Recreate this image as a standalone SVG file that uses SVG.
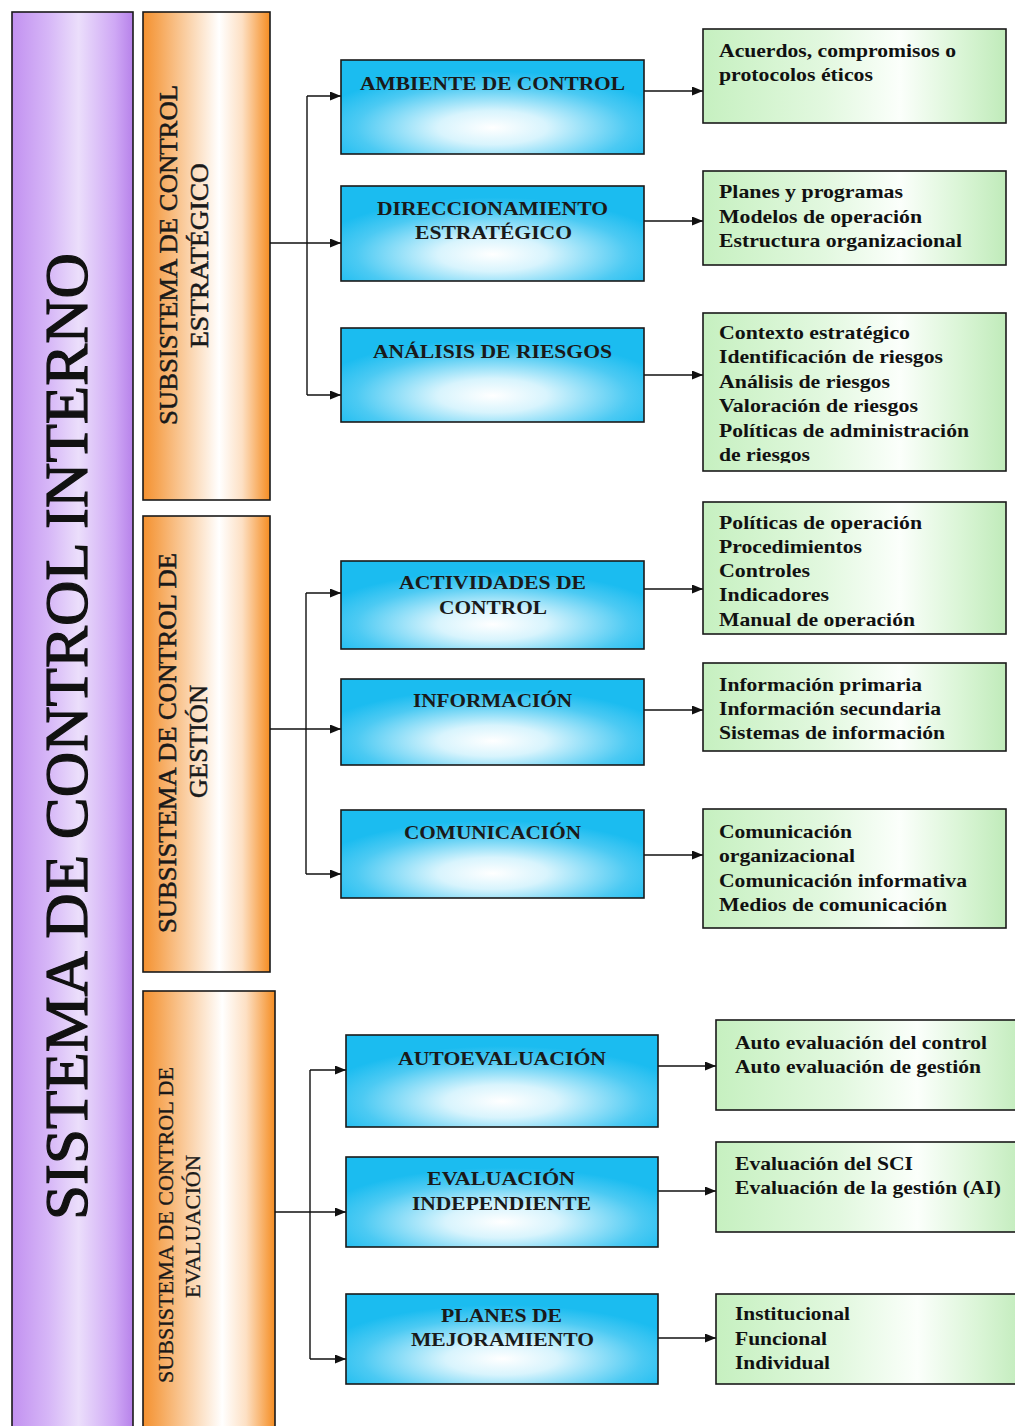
<svg xmlns="http://www.w3.org/2000/svg" width="1015" height="1426" viewBox="0 0 1015 1426">
<defs>
<linearGradient id="gPurple" x1="0" y1="0" x2="1" y2="0">
<stop offset="0" stop-color="#c291f0"/><stop offset="0.3" stop-color="#d6b6f7"/><stop offset="0.55" stop-color="#ebdefb"/><stop offset="0.85" stop-color="#cfa8f5"/><stop offset="1" stop-color="#b782ea"/>
</linearGradient>
<linearGradient id="gOrange" x1="0" y1="0" x2="1" y2="0">
<stop offset="0" stop-color="#f49130"/><stop offset="0.12" stop-color="#f6a656"/><stop offset="0.6" stop-color="#ffffff"/><stop offset="0.78" stop-color="#fde0c4"/><stop offset="1" stop-color="#f58d22"/>
</linearGradient>
<radialGradient id="gBlue" cx="0.5" cy="0.72" r="0.6">
<stop offset="0" stop-color="#ffffff"/><stop offset="0.3" stop-color="#d8f4fd"/><stop offset="0.75" stop-color="#4ccaf3"/><stop offset="1" stop-color="#1bbcf0"/>
</radialGradient>
<linearGradient id="gGreen" x1="0" y1="0" x2="1" y2="0">
<stop offset="0" stop-color="#c6f0c0"/><stop offset="0.4" stop-color="#e2f8df"/><stop offset="0.65" stop-color="#fbfffb"/><stop offset="0.85" stop-color="#daf5d6"/><stop offset="1" stop-color="#c0ebba"/>
</linearGradient>
<marker id="arr" markerUnits="userSpaceOnUse" markerWidth="12" markerHeight="10" refX="11" refY="4.5" orient="auto">
<path d="M0,0 L11,4.5 L0,9 z" fill="#111"/>
</marker>
<clipPath id="clipR"><rect x="703" y="313" width="303" height="150"/></clipPath>
<clipPath id="clipM"><rect x="703" y="502" width="303" height="125"/></clipPath>
</defs>
<style>
.box{stroke:#1a1a1a;stroke-width:1.6}
.purple{fill:url(#gPurple)}
.orange{fill:url(#gOrange)}
.blue{fill:url(#gBlue)}
.green{fill:url(#gGreen)}
.title{font-family:"Liberation Serif","Times New Roman",serif;font-size:62px;fill:#111;stroke:#111;stroke-width:1.2}
.sub{font-family:"Liberation Serif","Times New Roman",serif;font-size:25px;fill:#1a1a1a;stroke:#1a1a1a;stroke-width:0.5}
.sub3{font-family:"Liberation Serif","Times New Roman",serif;font-size:22px;fill:#1a1a1a;stroke:#1a1a1a;stroke-width:0.3}
.bt{font-family:"Liberation Serif","Times New Roman",serif;font-size:19px;font-weight:bold;fill:#1a1a1a;text-anchor:middle}
.gt{font-family:"Liberation Serif","Times New Roman",serif;font-size:19px;font-weight:bold;fill:#111}
.con{fill:none;stroke:#111;stroke-width:1.4}
</style>
<rect width="1015" height="1426" fill="#ffffff"/>

<g id="sistema">
<rect class="box purple" x="12" y="12" width="121" height="1430"/>
<text class="title" transform="translate(87,736.5) rotate(-90)" text-anchor="middle" textLength="967" lengthAdjust="spacingAndGlyphs">SISTEMA DE CONTROL INTERNO</text>
</g>

<g id="sub-estrategico">
<rect class="box orange" x="143" y="12" width="127" height="488"/>
<text class="sub" transform="translate(177,255) rotate(-90)" text-anchor="middle" textLength="340" lengthAdjust="spacingAndGlyphs">SUBSISTEMA DE CONTROL</text>
<text class="sub" transform="translate(208,255.5) rotate(-90)" text-anchor="middle" textLength="185" lengthAdjust="spacingAndGlyphs">ESTRATÉGICO</text>
</g>

<g id="sub-gestion">
<rect class="box orange" x="143" y="516" width="127" height="456"/>
<text class="sub" transform="translate(176,743) rotate(-90)" text-anchor="middle" textLength="380" lengthAdjust="spacingAndGlyphs">SUBSISTEMA DE CONTROL DE</text>
<text class="sub" transform="translate(207,741.5) rotate(-90)" text-anchor="middle" textLength="113" lengthAdjust="spacingAndGlyphs">GESTIÓN</text>
</g>

<g id="sub-evaluacion">
<rect class="box orange" x="143" y="991" width="132" height="450"/>
<text class="sub3" transform="translate(173,1225) rotate(-90)" text-anchor="middle" textLength="316" lengthAdjust="spacingAndGlyphs">SUBSISTEMA DE CONTROL DE</text>
<text class="sub3" transform="translate(200,1226.5) rotate(-90)" text-anchor="middle" textLength="143" lengthAdjust="spacingAndGlyphs">EVALUACIÓN</text>
</g>

<g id="connectors">
<path class="con" d="M270 243 H307 M307 96 V395"/>
<path class="con" d="M307 96 H341" marker-end="url(#arr)"/>
<path class="con" d="M307 243 H341" marker-end="url(#arr)"/>
<path class="con" d="M307 395 H341" marker-end="url(#arr)"/>
<path class="con" d="M644 91 H703" marker-end="url(#arr)"/>
<path class="con" d="M644 221 H703" marker-end="url(#arr)"/>
<path class="con" d="M644 375 H703" marker-end="url(#arr)"/>
<path class="con" d="M270 729 H306 M306 593 V874"/>
<path class="con" d="M306 593 H341" marker-end="url(#arr)"/>
<path class="con" d="M306 729 H341" marker-end="url(#arr)"/>
<path class="con" d="M306 874 H341" marker-end="url(#arr)"/>
<path class="con" d="M644 589 H703" marker-end="url(#arr)"/>
<path class="con" d="M644 710 H703" marker-end="url(#arr)"/>
<path class="con" d="M644 855 H703" marker-end="url(#arr)"/>
<path class="con" d="M275 1212 H310 M310 1070 V1359"/>
<path class="con" d="M310 1070 H346" marker-end="url(#arr)"/>
<path class="con" d="M310 1212 H346" marker-end="url(#arr)"/>
<path class="con" d="M310 1359 H346" marker-end="url(#arr)"/>
<path class="con" d="M658 1066 H716" marker-end="url(#arr)"/>
<path class="con" d="M658 1191 H716" marker-end="url(#arr)"/>
<path class="con" d="M658 1338 H716" marker-end="url(#arr)"/>
</g>

<g id="ambiente">
<rect class="box blue" x="341" y="60" width="303" height="94"/>
<text class="bt" x="492.5" y="90" textLength="265" lengthAdjust="spacingAndGlyphs">AMBIENTE DE CONTROL</text>
</g>
<g id="direccionamiento">
<rect class="box blue" x="341" y="186" width="303" height="95"/>
<text class="bt" x="492.5" y="215" textLength="231" lengthAdjust="spacingAndGlyphs">DIRECCIONAMIENTO</text>
<text class="bt" x="493.5" y="239" textLength="157" lengthAdjust="spacingAndGlyphs">ESTRATÉGICO</text>
</g>
<g id="analisis">
<rect class="box blue" x="341" y="328" width="303" height="94"/>
<text class="bt" x="492.5" y="358" textLength="239" lengthAdjust="spacingAndGlyphs">ANÁLISIS DE RIESGOS</text>
</g>

<g id="det-ambiente">
<rect class="box green" x="703" y="29" width="303" height="94"/>
<text class="gt" x="719" y="57" textLength="237" lengthAdjust="spacingAndGlyphs">Acuerdos, compromisos o</text>
<text class="gt" x="719" y="81" textLength="154" lengthAdjust="spacingAndGlyphs">protocolos éticos</text>
</g>
<g id="det-direccionamiento">
<rect class="box green" x="703" y="171" width="303" height="94"/>
<text class="gt" x="719" y="198" textLength="184" lengthAdjust="spacingAndGlyphs">Planes y programas</text>
<text class="gt" x="719" y="222.5" textLength="203" lengthAdjust="spacingAndGlyphs">Modelos de operación</text>
<text class="gt" x="719" y="247" textLength="243" lengthAdjust="spacingAndGlyphs">Estructura organizacional</text>
</g>
<g id="det-analisis">
<rect class="box green" x="703" y="313" width="303" height="158"/>
<g clip-path="url(#clipR)">
<text class="gt" x="719" y="339" textLength="191" lengthAdjust="spacingAndGlyphs">Contexto estratégico</text>
<text class="gt" x="719" y="363.4" textLength="224" lengthAdjust="spacingAndGlyphs">Identificación de riesgos</text>
<text class="gt" x="719" y="387.8" textLength="171" lengthAdjust="spacingAndGlyphs">Análisis de riesgos</text>
<text class="gt" x="719" y="412.2" textLength="199" lengthAdjust="spacingAndGlyphs">Valoración de riesgos</text>
<text class="gt" x="719" y="436.6" textLength="250" lengthAdjust="spacingAndGlyphs">Políticas de administración</text>
<text class="gt" x="719" y="461" textLength="91" lengthAdjust="spacingAndGlyphs">de riesgos</text>
</g>
</g>

<g id="actividades">
<rect class="box blue" x="341" y="561" width="303" height="88"/>
<text class="bt" x="492.5" y="589" textLength="187" lengthAdjust="spacingAndGlyphs">ACTIVIDADES DE</text>
<text class="bt" x="493" y="614" textLength="108" lengthAdjust="spacingAndGlyphs">CONTROL</text>
</g>
<g id="informacion">
<rect class="box blue" x="341" y="679" width="303" height="86"/>
<text class="bt" x="492.5" y="707" textLength="159" lengthAdjust="spacingAndGlyphs">INFORMACIÓN</text>
</g>
<g id="comunicacion">
<rect class="box blue" x="341" y="810" width="303" height="88"/>
<text class="bt" x="492.5" y="839" textLength="177" lengthAdjust="spacingAndGlyphs">COMUNICACIÓN</text>
</g>

<g id="det-actividades">
<rect class="box green" x="703" y="502" width="303" height="132"/>
<g clip-path="url(#clipM)">
<text class="gt" x="719" y="529" textLength="203" lengthAdjust="spacingAndGlyphs">Políticas de operación</text>
<text class="gt" x="719" y="553" textLength="143" lengthAdjust="spacingAndGlyphs">Procedimientos</text>
<text class="gt" x="719" y="577" textLength="91" lengthAdjust="spacingAndGlyphs">Controles</text>
<text class="gt" x="719" y="601" textLength="110" lengthAdjust="spacingAndGlyphs">Indicadores</text>
<text class="gt" x="719" y="626" textLength="196" lengthAdjust="spacingAndGlyphs">Manual de operación</text>
</g>
</g>
<g id="det-informacion">
<rect class="box green" x="703" y="663" width="303" height="88"/>
<text class="gt" x="719" y="691" textLength="203" lengthAdjust="spacingAndGlyphs">Información primaria</text>
<text class="gt" x="719" y="715" textLength="222" lengthAdjust="spacingAndGlyphs">Información secundaria</text>
<text class="gt" x="719" y="739" textLength="226" lengthAdjust="spacingAndGlyphs">Sistemas de información</text>
</g>
<g id="det-comunicacion">
<rect class="box green" x="703" y="809" width="303" height="119"/>
<text class="gt" x="719" y="838" textLength="133" lengthAdjust="spacingAndGlyphs">Comunicación</text>
<text class="gt" x="719" y="862" textLength="136" lengthAdjust="spacingAndGlyphs">organizacional</text>
<text class="gt" x="719" y="886.5" textLength="248" lengthAdjust="spacingAndGlyphs">Comunicación informativa</text>
<text class="gt" x="719" y="911" textLength="228" lengthAdjust="spacingAndGlyphs">Medios de comunicación</text>
</g>

<g id="autoevaluacion">
<rect class="box blue" x="346" y="1035" width="312" height="92"/>
<text class="bt" x="502" y="1065" textLength="208" lengthAdjust="spacingAndGlyphs">AUTOEVALUACIÓN</text>
</g>
<g id="evaluacion-independiente">
<rect class="box blue" x="346" y="1157" width="312" height="90"/>
<text class="bt" x="501" y="1185" textLength="148" lengthAdjust="spacingAndGlyphs">EVALUACIÓN</text>
<text class="bt" x="501.5" y="1210" textLength="179" lengthAdjust="spacingAndGlyphs">INDEPENDIENTE</text>
</g>
<g id="planes-mejoramiento">
<rect class="box blue" x="346" y="1294" width="312" height="90"/>
<text class="bt" x="501.5" y="1322" textLength="121" lengthAdjust="spacingAndGlyphs">PLANES DE</text>
<text class="bt" x="502.5" y="1346" textLength="183" lengthAdjust="spacingAndGlyphs">MEJORAMIENTO</text>
</g>

<g id="det-autoevaluacion">
<rect class="box green" x="716" y="1020" width="310" height="90"/>
<text class="gt" x="735" y="1049" textLength="252" lengthAdjust="spacingAndGlyphs">Auto evaluación del control</text>
<text class="gt" x="735" y="1073" textLength="246" lengthAdjust="spacingAndGlyphs">Auto evaluación de gestión</text>
</g>
<g id="det-evaluacion">
<rect class="box green" x="716" y="1142" width="310" height="90"/>
<text class="gt" x="735" y="1170" textLength="178" lengthAdjust="spacingAndGlyphs">Evaluación del SCI</text>
<text class="gt" x="735" y="1194" textLength="266" lengthAdjust="spacingAndGlyphs">Evaluación de la gestión (AI)</text>
</g>
<g id="det-planes">
<rect class="box green" x="716" y="1294" width="310" height="90"/>
<text class="gt" x="735" y="1320" textLength="115" lengthAdjust="spacingAndGlyphs">Institucional</text>
<text class="gt" x="735" y="1345" textLength="92" lengthAdjust="spacingAndGlyphs">Funcional</text>
<text class="gt" x="735" y="1369" textLength="95" lengthAdjust="spacingAndGlyphs">Individual</text>
</g>
</svg>
